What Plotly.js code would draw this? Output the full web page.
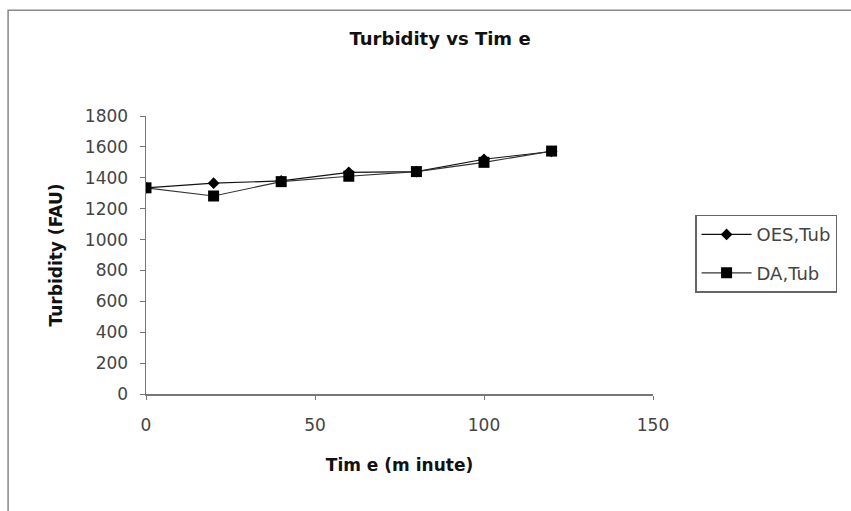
<!DOCTYPE html>
<html><head><meta charset="utf-8">
<script src="https://cdn.plot.ly/plotly-3.0.1.min.js"></script>
<style>html,body{margin:0;padding:0;background:#fff}#chart{width:851px;height:511px}</style>
</head><body><div id="chart"></div>
<script>
const timeMin = [0, 20, 40, 60, 80, 100, 120];
const oesTub = [1335, 1365, 1380, 1435, 1440, 1520, 1570];
const daTub = [1335, 1282, 1375, 1410, 1440, 1500, 1573];
const xTicks = [0, 50, 100, 150];
const yTicks = [0, 200, 400, 600, 800, 1000, 1200, 1400, 1600, 1800];

const traces = [
  {x: timeMin, y: oesTub, name: 'OES,Tub', legendgroup: 'a', mode: 'lines+markers', type: 'scatter',
   line: {color: '#111', width: 1.2}, marker: {symbol: 'diamond', size: 9, color: '#000'}},
  {x: timeMin, y: daTub, name: 'DA,Tub', legendgroup: 'b', mode: 'lines+markers', type: 'scatter',
   line: {color: '#333', width: 1.2}, marker: {symbol: 'square', size: 11, color: '#000'}}
];
const F = 'DejaVu Sans, Liberation Sans, Arial, sans-serif';
const layout = {
  width: 851, height: 511,
  margin: {l: 146, r: 198, t: 116, b: 117},
  paper_bgcolor: '#fff', plot_bgcolor: '#fff',
  font: {family: F, color: '#333'},
  title: {text: '<b>Turbidity vs Tim e</b>', font: {family: F, size: 18, color: '#111'},
    x: 0.58, xref: 'paper', xanchor: 'center', y: 0.925, yref: 'container', yanchor: 'middle'},
  xaxis: {range: [0, 150], tickvals: xTicks, ticks: 'outside', ticklen: 4, tickcolor: '#777',
    showline: true, linecolor: '#777', linewidth: 1.5, showgrid: false, zeroline: false,
    tickfont: {family: F, size: 17, color: '#444'}, ticklabelstandoff: 11,
    title: {text: '<b>Tim e (m inute)</b>', font: {family: F, size: 17, color: '#111'}, standoff: 25}},
  yaxis: {range: [0, 1800], tickvals: yTicks, ticks: 'outside', ticklen: 5, tickcolor: '#777',
    showline: true, linecolor: '#777', linewidth: 1.5, showgrid: false, zeroline: false,
    tickfont: {family: F, size: 17, color: '#444'}, ticklabelstandoff: 8,
    title: {text: '<b>Turbidity (FAU)</b>', font: {family: F, size: 17, color: '#111'}, standoff: 18}},
  legend: {x: 1.083, y: 0.645, xanchor: 'left', yanchor: 'top', bordercolor: '#666', borderwidth: 1.5,
    font: {family: F, size: 18, color: '#444'}, bgcolor: '#fff', itemwidth: 50,
    traceorder: 'grouped', tracegroupgap: 12},
  shapes: [{type: 'rect', xref: 'paper', yref: 'paper', x0: -0.272, x1: 1.5, y0: -0.5, y1: 1.38,
    line: {color: '#888', width: 1.5}, fillcolor: 'rgba(0,0,0,0)'}]
};
Plotly.newPlot('chart', traces, layout, {displayModeBar: false, staticPlot: true});
</script></body></html>
